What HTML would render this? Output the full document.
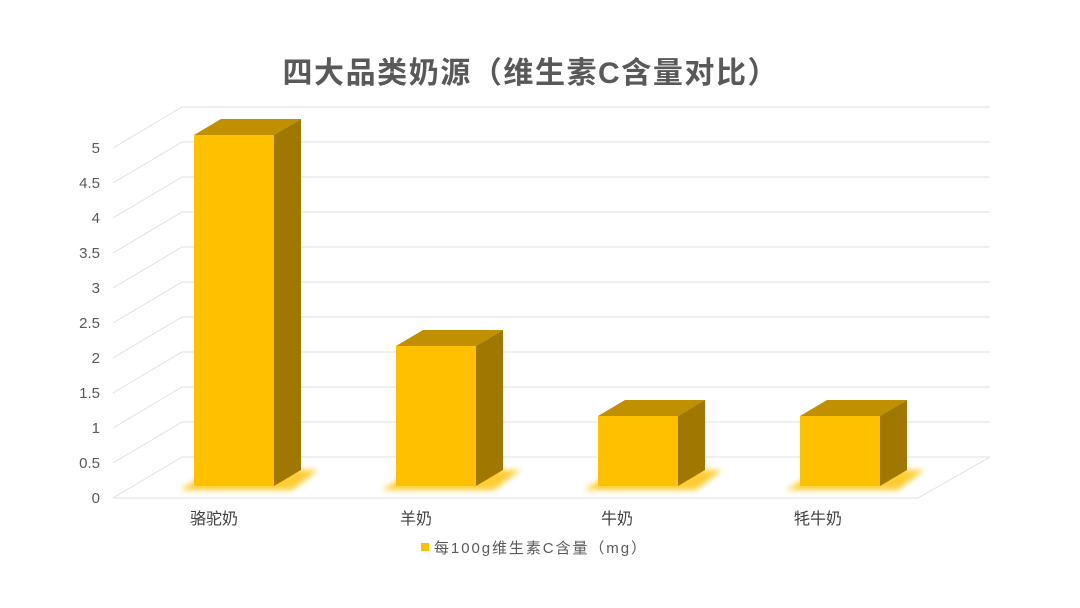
<!DOCTYPE html>
<html><head><meta charset="utf-8"><style>
html,body{margin:0;padding:0;background:#fff;}
svg{display:block;}
text{font-family:"Liberation Sans","Noto Sans CJK SC",sans-serif;}
</style></head><body>
<svg width="1080" height="608" viewBox="0 0 1080 608">
<defs>
<filter id="glow" x="-30%" y="-200%" width="160%" height="500%"><feGaussianBlur stdDeviation="3"/></filter>
</defs>
<rect width="1080" height="608" fill="#fff"/>
<text x="530" y="83" text-anchor="middle" font-size="30" font-weight="bold" fill="#595959" textLength="495" lengthAdjust="spacing">四大品类奶源（维生素C含量对比）</text>
<g stroke="#e0e0e0" stroke-width="1" fill="none">
<path d="M113 498L182 457H990M113 463L182 422H990M113 428L182 387H990M113 393L182 352H990M113 358L182 317H990M113 323L182 282H990M113 288L182 247H990M113 253L182 212H990M113 218L182 177H990M113 183L182 142H990M113 148L182 107H990"/>
<path d="M113 498H918L990 457"/>
</g>
<g font-size="15" fill="#595959" text-anchor="end">
<text x="100" y="503">0</text><text x="100" y="468">0.5</text><text x="100" y="433">1</text><text x="100" y="398">1.5</text><text x="100" y="363">2</text><text x="100" y="328">2.5</text><text x="100" y="293">3</text><text x="100" y="258">3.5</text><text x="100" y="223">4</text><text x="100" y="188">4.5</text><text x="100" y="153">5</text>
</g>
<g>
<g filter="url(#glow)" fill="#ffc000" opacity="0.8">
<path d="M180 490L212 470H318L292 490Z"/>
<path d="M382 490L414 470H520L494 490Z"/>
<path d="M584 490L616 470H722L696 490Z"/>
<path d="M786 490L818 470H924L898 490Z"/>
</g>
<g>
<rect x="194" y="135" width="80" height="351" fill="#ffc000"/>
<path d="M194 135L221 119H301L274 135Z" fill="#c09000"/>
<path d="M274 135L301 119V470L274 486Z" fill="#a07800"/>
<rect x="396" y="346" width="80" height="140" fill="#ffc000"/>
<path d="M396 346L423 330H503L476 346Z" fill="#c09000"/>
<path d="M476 346L503 330V470L476 486Z" fill="#a07800"/>
<rect x="598" y="416" width="80" height="70" fill="#ffc000"/>
<path d="M598 416L625 400H705L678 416Z" fill="#c09000"/>
<path d="M678 416L705 400V470L678 486Z" fill="#a07800"/>
<rect x="800" y="416" width="80" height="70" fill="#ffc000"/>
<path d="M800 416L827 400H907L880 416Z" fill="#c09000"/>
<path d="M880 416L907 400V470L880 486Z" fill="#a07800"/>
</g>
</g>
<g font-size="16" fill="#404040" text-anchor="middle">
<text x="214" y="524">骆驼奶</text><text x="416" y="524">羊奶</text><text x="617" y="524">牛奶</text><text x="818" y="524">牦牛奶</text>
</g>
<rect x="421" y="543" width="8" height="8" fill="#ffc000"/>
<text x="434" y="553" font-size="15" fill="#595959" textLength="212" lengthAdjust="spacing">每100g维生素C含量（mg）</text>
</svg>
</body></html>
